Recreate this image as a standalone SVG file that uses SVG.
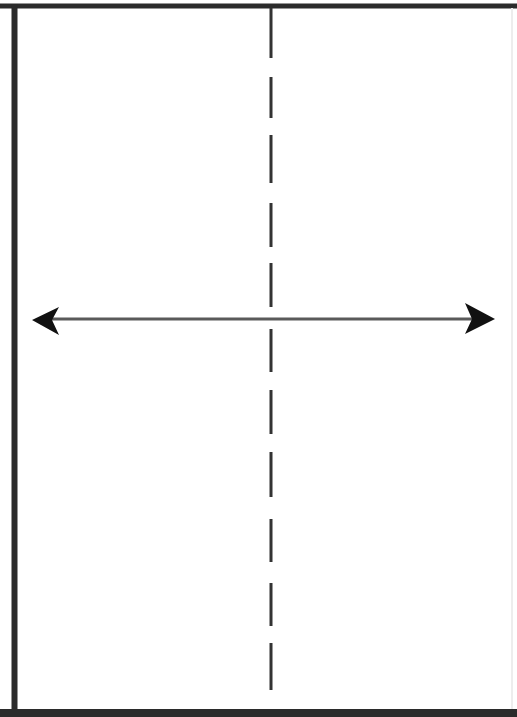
<svg xmlns="http://www.w3.org/2000/svg" width="517" height="717" viewBox="0 0 517 717">
  <style>
    .frame { fill: none; stroke: #2b2b2b; }
    .dash { fill: none; stroke: #333333; stroke-width: 3; }
    .axis { fill: none; stroke: #5a5a5a; stroke-width: 3; }
    .head { fill: #111111; }
  </style>
  <rect x="0" y="0" width="517" height="717" fill="#ffffff"/>
  <g id="frame">
    <line class="frame" x1="0" y1="6" x2="517" y2="6" stroke-width="5"/>
    <line class="frame" x1="14.5" y1="4" x2="14.5" y2="717" stroke-width="6"/>
    <line class="frame" x1="0" y1="713" x2="517" y2="713" stroke-width="8"/>
    <line x1="512" y1="8" x2="512" y2="709" stroke="#ededed" stroke-width="2"/>
  </g>
  <g id="fold-line">
    <path class="dash" d="M271 8 V58 M271 77 V118 M271 135 V183 M271 203 V247 M271 263 V307 M271 329 V372 M271 390 V434 M271 452 V497 M271 519 V562 M271 583 V626 M271 643 V690"/>
  </g>
  <g id="connectors">
    <line class="axis" x1="50" y1="319" x2="478" y2="319"/>
    <path class="head" d="M32 320 L59 307 L52 320 L59 335 Z"/>
    <path class="head" d="M495 319 L465 303 L472 319 L465 334 Z"/>
  </g>
</svg>
